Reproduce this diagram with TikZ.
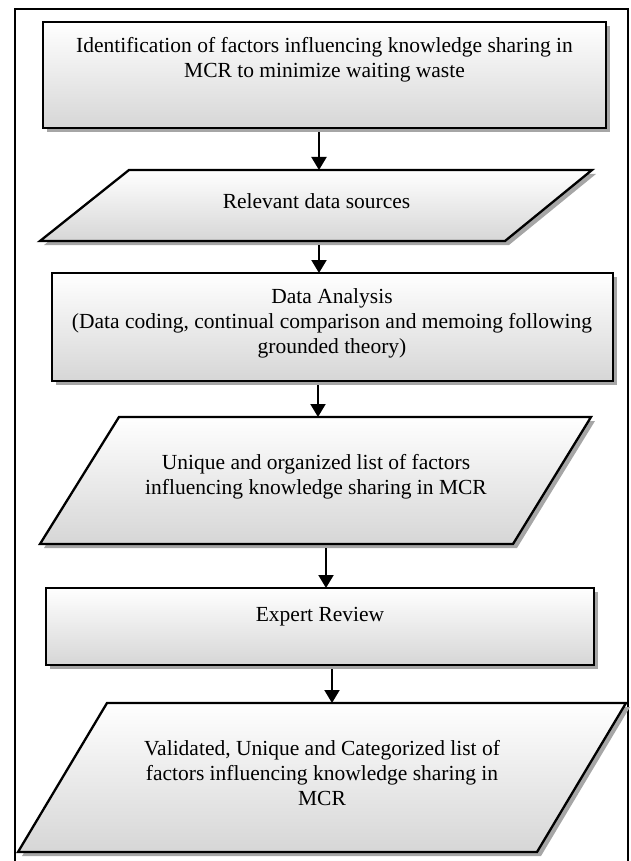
\documentclass[tikz,border=0pt]{standalone}
\usepackage{fontspec}
\setmainfont{Liberation Serif}
\usetikzlibrary{arrows.meta,shadows}
\begin{document}
\begin{tikzpicture}[x=1pt,y=-1pt,
  frame/.style={draw=black, line width=2pt},
  sh/.style={general shadow={shadow xshift=4pt, shadow yshift=-4pt, fill=black!35}},
  shp/.style={draw=black, line width=2.3pt, top color=white, bottom color=black!16, sh},
  boxn/.style={shp, rectangle, inner sep=0pt, outer sep=0pt, anchor=north west},
  arr/.style={draw=black, line width=2pt, -{Triangle[length=13pt,width=15pt]}, shorten <=4pt},
  lbl/.style={align=center, inner sep=0pt, font=\fontsize{21.5}{25}\selectfont}
]
\useasboundingbox (0,0) rectangle (631,861);
% outer frame (bottom edge lies below the page)
\draw[frame] (15,880) -- (15,9) -- (628,9) -- (628,880);

% 1: rectangle
\node[boxn, minimum width=563pt, minimum height=106pt] (b1) at (43,22) {};
\node[lbl] (t1) at (324.5,60) {Identification of factors influencing knowledge sharing in\\MCR to minimize waiting waste};

% 2: parallelogram
\draw[shp] (129,170) coordinate (p2tl) -- (592,170) coordinate (p2tr) -- (505,241) coordinate (p2br) -- (40,241) coordinate (p2bl) -- cycle;
\node[lbl] (t2) at (316.5,201.6) {Relevant data sources};

% 3: rectangle
\node[boxn, minimum width=561pt, minimum height=108pt] (b3) at (52,273) {};
\node[lbl] (t3) at (332,323.5) {Data Analysis\\(Data coding, continual comparison and memoing following\\grounded theory)};

% 4: parallelogram
\draw[shp] (119,417) coordinate (p4tl) -- (591,417) coordinate (p4tr) -- (513,544) coordinate (p4br) -- (40,544) coordinate (p4bl) -- cycle;
\node[lbl] (t4) at (316,476.5) {Unique and organized list of factors\\influencing knowledge sharing in MCR};

% 5: rectangle
\node[boxn, minimum width=548pt, minimum height=77pt] (b5) at (46,588) {};
\node[lbl] (t5) at (320,616.3) {Expert Review};

% 6: parallelogram
\draw[shp] (107,703) coordinate (p6tl) -- (626,703) coordinate (p6tr) -- (537,852) coordinate (p6br) -- (18,852) coordinate (p6bl) -- cycle;
\node[lbl] (t6) at (322,772.6) {Validated, Unique and Categorized list of\\factors influencing knowledge sharing in\\MCR};

% connectors
\draw[arr] (319,0 |- b1.south) -- (319,0 |- p2tl);
\draw[arr] (319,0 |- p2bl) -- (319,0 |- b3.north);
\draw[arr] (318,0 |- b3.south) -- (318,0 |- p4tl);
\draw[arr] (326,0 |- p4bl) -- (326,0 |- b5.north);
\draw[arr] (332,0 |- b5.south) -- (332,0 |- p6tl);
\end{tikzpicture}
\end{document}
